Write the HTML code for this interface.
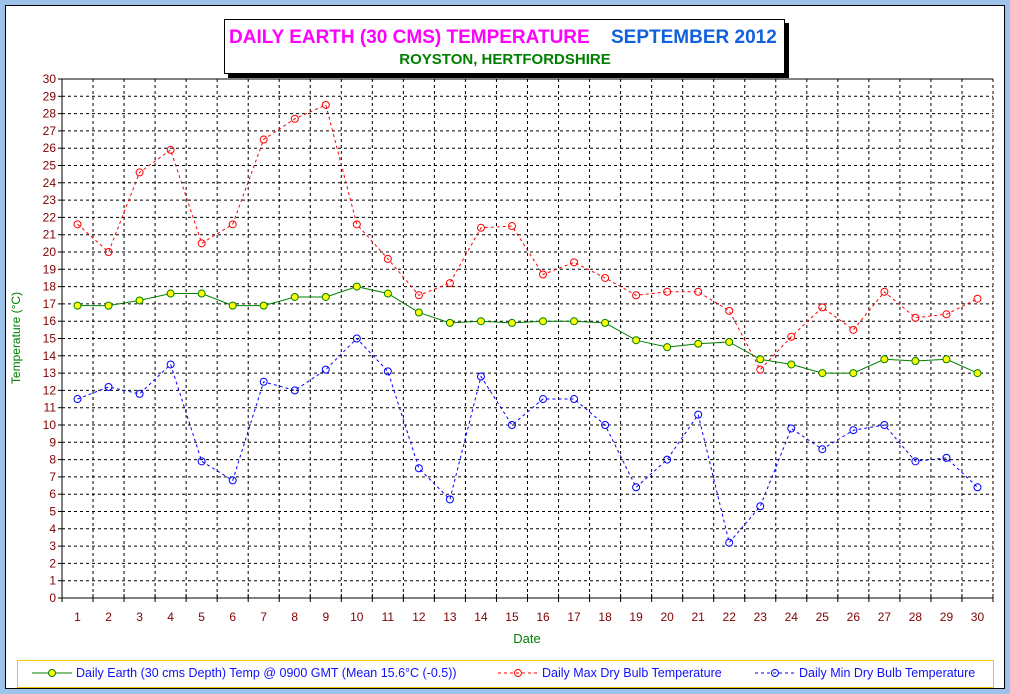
<!DOCTYPE html>
<html><head><meta charset="utf-8"><style>
body{margin:0;background:#9dc3ea;}
svg{display:block;font-family:"Liberation Sans",sans-serif;}
</style></head><body>
<svg id="s" width="1010" height="694" xmlns="http://www.w3.org/2000/svg">
<rect x="0" y="0" width="1010" height="694" fill="#9dc3ea"/>
<rect x="5.5" y="5.5" width="999" height="683" fill="#fff" stroke="#000" stroke-width="1"/>
<rect x="228" y="23" width="561" height="55" fill="#000"/>
<rect x="224.5" y="19.5" width="560" height="54" fill="#fff" stroke="#000"/>
<text x="229" y="43" font-size="19" font-weight="bold" fill="#ff00ff">DAILY EARTH (30 CMS) TEMPERATURE</text>
<text x="611" y="43" font-size="19" font-weight="bold" fill="#1060e0">SEPTEMBER 2012</text>
<text x="505" y="64" font-size="15" font-weight="bold" fill="#008000" text-anchor="middle">ROYSTON, HERTFORDSHIRE</text>
<g id="g"></g>
<text x="20" y="338" font-size="12" fill="#008000" text-anchor="middle" transform="rotate(-90 20 338)">Temperature (°C)</text>
<text x="527" y="643" font-size="13" fill="#008000" text-anchor="middle">Date</text>
<rect x="17.5" y="660.5" width="976" height="27" fill="#fff" stroke="#f5c400"/>
<line x1="32" y1="673" x2="72" y2="673" stroke="#008000"/><circle cx="52" cy="673" r="3.5" fill="#ffff00" stroke="#008000"/>
<text x="76" y="677" font-size="12.5" fill="#1010ff">Daily Earth (30 cms Depth) Temp @ 0900 GMT (Mean 15.6°C (-0.5))</text>
<line x1="498" y1="673" x2="538" y2="673" stroke="#ff0000" stroke-dasharray="3,3"/><circle cx="518" cy="673" r="3.5" fill="none" stroke="#ff0000"/>
<text x="542" y="677" font-size="12.5" fill="#1010ff">Daily Max Dry Bulb Temperature</text>
<line x1="755" y1="673" x2="795" y2="673" stroke="#0000ff" stroke-dasharray="3,3"/><circle cx="775" cy="673" r="3.5" fill="none" stroke="#0000ff"/>
<text x="799" y="677" font-size="12.5" fill="#1010ff">Daily Min Dry Bulb Temperature</text>
</svg>
<script>
var g=document.getElementById('g'),h='';
var L=62,R=993,T=79,B=598,dy=(B-T)/30,dx=(R-L)/30;
for(var i=1;i<=30;i++){var y=B-i*dy;h+='<line x1="'+L+'" y1="'+y+'" x2="'+R+'" y2="'+y+'" stroke="#000" stroke-dasharray="3,3"/>';}
for(var i=1;i<=30;i++){var x=L+i*dx;h+='<line x1="'+x+'" y1="'+T+'" x2="'+x+'" y2="'+B+'" stroke="#000" stroke-dasharray="3,3"/>';}
h+='<line x1="'+L+'" y1="'+T+'" x2="'+L+'" y2="'+B+'" stroke="#000"/><line x1="'+L+'" y1="'+B+'" x2="'+R+'" y2="'+B+'" stroke="#000"/><line x1="'+L+'" y1="'+T+'" x2="'+R+'" y2="'+T+'" stroke="#000"/>';
for(var i=0;i<=30;i++){var y=B-i*dy;h+='<line x1="'+(L-4)+'" y1="'+y+'" x2="'+L+'" y2="'+y+'" stroke="#000"/><text x="'+(L-6)+'" y="'+(y+4)+'" font-size="12" fill="#800000" text-anchor="end">'+i+'</text>';}
for(var i=0;i<=30;i++){var x=L+i*dx;h+='<line x1="'+x+'" y1="'+(B-4)+'" x2="'+x+'" y2="'+(B+4)+'" stroke="#000"/>';}
for(var i=1;i<=30;i++){var x=L+(i-0.5)*dx;h+='<text x="'+x+'" y="621" font-size="12" fill="#800000" text-anchor="middle">'+i+'</text>';}
var E=[16.9,16.9,17.2,17.6,17.6,16.9,16.9,17.4,17.4,18.0,17.6,16.5,15.9,16.0,15.9,16.0,16.0,15.9,14.9,14.5,14.7,14.8,13.8,13.5,13.0,13.0,13.8,13.7,13.8,13.0];
var M=[21.6,20.0,24.6,25.9,20.5,21.6,26.5,27.7,28.5,21.6,19.6,17.5,18.2,21.4,21.5,18.7,19.4,18.5,17.5,17.7,17.7,16.6,13.2,15.1,16.8,15.5,17.7,16.2,16.4,17.3];
var N=[11.5,12.2,11.8,13.5,7.9,6.8,12.5,12.0,13.2,15.0,13.1,7.5,5.7,12.8,10.0,11.5,11.5,10.0,6.4,8.0,10.6,3.2,5.3,9.8,8.6,9.7,10.0,7.9,8.1,6.4];
function ser(d,c,dash,fill){var p=d.map(function(v,i){return (L+(i+0.5)*dx).toFixed(1)+','+(B-v*dy).toFixed(1)}).join(' ');
var s='<polyline points="'+p+'" fill="none" stroke="'+c+'"'+(dash?' stroke-dasharray="3,3"':'')+'/>';
d.forEach(function(v,i){s+='<circle cx="'+(L+(i+0.5)*dx)+'" cy="'+(B-v*dy)+'" r="3.5" fill="'+fill+'" stroke="'+c+'"/>';});return s;}
h+=ser(M,'#ff0000',1,'none')+ser(N,'#0000ff',1,'none')+ser(E,'#008000',0,'#ffff00');
g.innerHTML=h;
</script>
</body></html>
